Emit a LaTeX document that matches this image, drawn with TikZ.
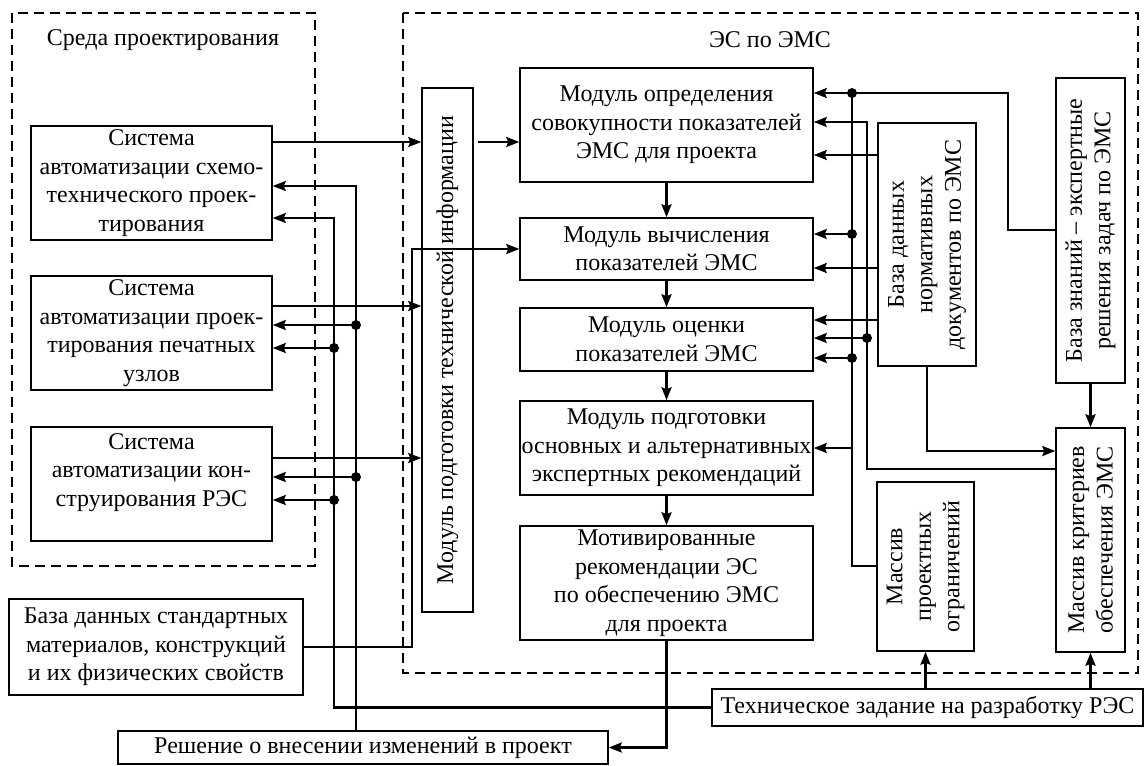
\documentclass[tikz,border=0pt]{standalone}
\usepackage{fontspec}
\setmainfont{Liberation Serif}
\usetikzlibrary{arrows.meta}
\newcommand\dfont{\fontsize{24}{28.5}\selectfont}

\begin{document}
\begin{tikzpicture}[x=1pt,y=-1pt,
  every node/.style={font=\dfont},
  box/.style={draw,line width=1.5pt,align=center,inner sep=0pt},
  vbox/.style={box,rotate=90},
  frame/.style={line width=1.5pt,dash pattern=on 10pt off 6pt},
  link/.style={line width=2.4pt},
  arr/.style={link,-{Stealth[length=13pt,width=10pt,inset=2pt]}},
  junction/.style={fill}
]
\useasboundingbox (0,0) rectangle (1147,765);

% dashed enclosures
\draw[frame] (12,13) rectangle (315,566);
\draw[frame] (403,13) rectangle (1138,673);
\node (envT) at (163,40) {Среда проектирования};
\node (esT) at (770,40) {ЭС по ЭМС};

% design environment
\node[box,minimum width=241pt,minimum height=114pt] (S1) at (151.5,183)
  {Система\\автоматизации схемо-\\технического проек-\\тирования};
\node[box,minimum width=241pt,minimum height=114pt] (S2) at (151.5,333)
  {Система\\автоматизации проек-\\тирования печатных\\узлов};
\node[box,minimum width=241pt,minimum height=114pt] (S3) at (151.5,484)
  {Система\\автоматизации кон-\\струирования РЭС\\\mbox{}};

% expert system modules
\node[vbox,minimum width=524pt,minimum height=51pt] (MP) at (447.5,350)
  {Модуль подготовки технической информации};
\node[box,minimum width=293pt,minimum height=114pt] (B1) at (666.5,125)
  {Модуль определения\\совокупности показателей\\ЭМС для проекта};
\node[box,minimum width=293pt,minimum height=62pt] (B2) at (666.5,249)
  {Модуль вычисления\\показателей ЭМС};
\node[box,minimum width=293pt,minimum height=63pt] (B3) at (666.5,339.5)
  {Модуль оценки\\показателей ЭМС};
\node[box,minimum width=293pt,minimum height=94pt] (B4) at (666.5,448)
  {Модуль подготовки\\основных и альтернативных\\экспертных рекомендаций};
\node[box,minimum width=293pt,minimum height=114pt] (B5) at (666.5,583)
  {Мотивированные\\рекомендации ЭС\\по обеспечению ЭМС\\для проекта};
\node[vbox,minimum width=243pt,minimum height=98pt] (DBN) at (927,244.5)
  {База данных\\нормативных\\документов по ЭМС};
\node[vbox,minimum width=305pt,minimum height=69pt] (KB) at (1090.5,230.5)
  {База знаний – экспертные\\решения задач по ЭМС};
\node[vbox,minimum width=224pt,minimum height=69pt] (MK) at (1090.5,540)
  {Массив критериев\\обеспечения ЭМС};
\node[vbox,minimum width=169pt,minimum height=97pt] (MO) at (925.5,566.5)
  {Массив\\проектных\\ограничений};

% external sources
\node[box,minimum width=294pt,minimum height=96pt] (DBS) at (156,647)
  {База данных стандартных\\материалов, конструкций\\и их физических свойств};
\node[box,minimum width=431pt,minimum height=37pt] (TZ) at (927.5,707.5)
  {Техническое задание на разработку РЭС};
\node[box,minimum width=490pt,minimum height=33pt] (RS) at (363,747.5)
  {Решение о внесении изменений в проект};

% inputs to the preparation module
\draw[arr] (S1.east |- 0,142) -- (MP.north |- 0,142);
\draw[arr] (S2.east |- 0,306) -- (MP.north |- 0,306);
\draw[arr] (S3.east |- 0,458) -- (MP.north |- 0,458);
\draw[arr,shorten <=4pt] (MP.south |- 0,142) -- (B1.west |- 0,142);

% feedback buses to the CAD systems
\draw[arr] (TZ.west) -| (334,218) -- (S1.east |- 0,218);
\draw[arr] (334,348) -- (S2.east |- 0,348);
\draw[arr] (334,500) -- (S3.east |- 0,500);
\draw[arr] (RS.north -| 356,0) -- (356,186) -- (S1.east |- 0,186);
\draw[arr] (356,325) -- (S2.east |- 0,325);
\draw[arr] (356,477) -- (S3.east |- 0,477);
\fill[junction] (334,348) circle (5pt) (334,500) circle (5pt)
                (356,325) circle (5pt) (356,477) circle (5pt);

% standard materials database
\draw[arr] (DBS.east) -| (412,249) -- (B2.west |- 0,249);

% module chain
\draw[arr] (B1.south) -- (B2.north);
\draw[arr] (B2.south) -- (B3.north);
\draw[arr] (B3.south) -- (B4.north);
\draw[arr] (B4.south) -- (B5.north);
\draw[arr] (B5.south) |- (RS.east);

% knowledge base and constraint arrays
\draw[arr] (KB.north |- 0,230) -- (1008,230) -- (1008,93) -- (B1.east |- 0,93);
\draw[link] (MO.north |- 0,566) -| (852,93);
\draw[arr] (852,234) -- (B2.east |- 0,234);
\draw[arr] (852,358) -- (B3.east |- 0,358);
\draw[arr] (852,448) -- (B4.east |- 0,448);
\draw[arr] (MK.north |- 0,469) -| (867,122) -- (B1.east |- 0,122);
\draw[arr] (867,338) -- (B3.east |- 0,338);
\fill[junction] (852,93) circle (5pt) (852,234) circle (5pt) (852,358) circle (5pt)
                (867,338) circle (5pt);

% normative documents database
\draw[arr] (DBN.north |- 0,155) -- (B1.east |- 0,155);
\draw[arr] (DBN.north |- 0,268) -- (B2.east |- 0,268);
\draw[arr] (DBN.north |- 0,320) -- (B3.east |- 0,320);
\draw[arr] (DBN.west) |- (MK.north |- 0,451);
\draw[arr] (KB.west) -- (MK.east);

% technical specification
\draw[arr] (TZ.north -| MO.west) -- (MO.west);
\draw[arr] (TZ.north -| MK.west) -- (MK.west);
\end{tikzpicture}
\end{document}
